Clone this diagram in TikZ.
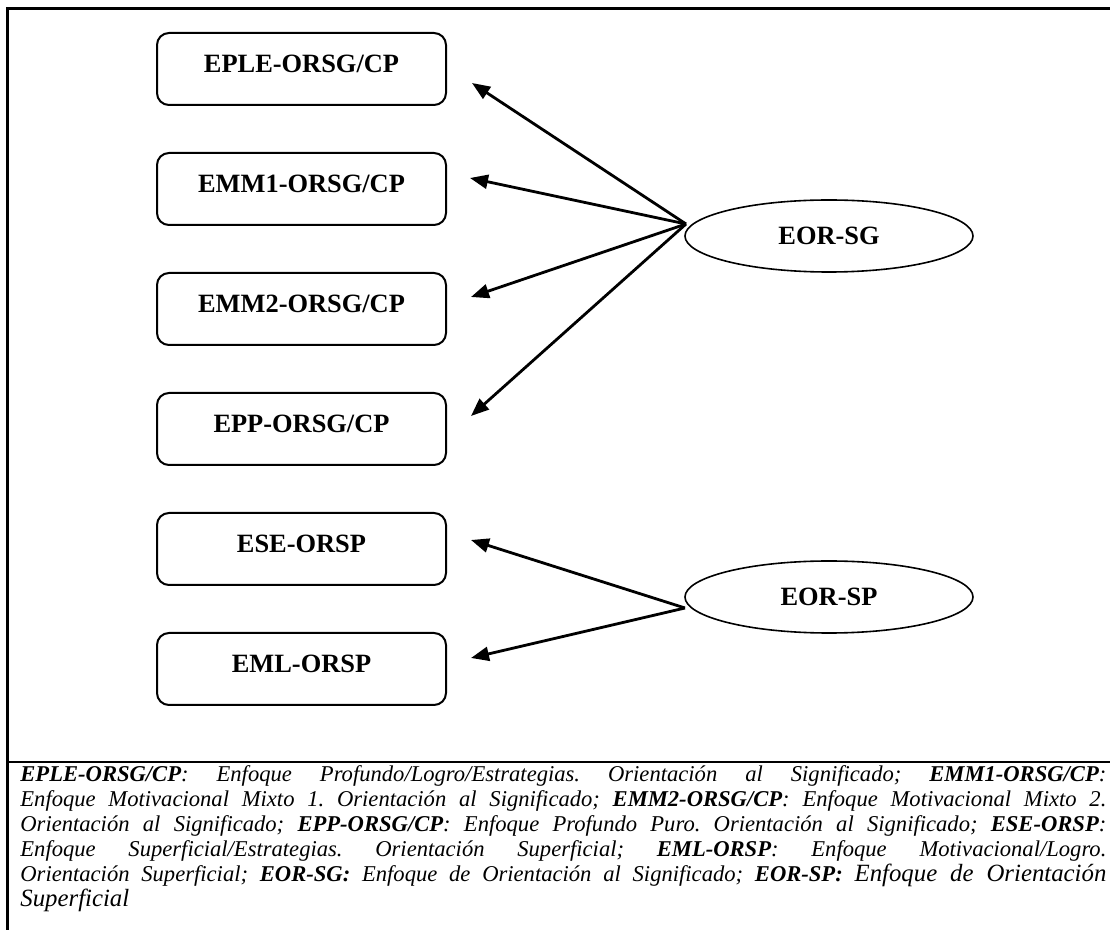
\documentclass[tikz,border=0pt]{standalone}
\usepackage{fontspec}
\setmainfont{Liberation Serif}
\usetikzlibrary{arrows.meta,shapes.geometric}

\begin{document}
\begin{tikzpicture}[x=0.5pt,y=-0.5pt,
  factor/.style={draw,line width=1pt,rounded corners=6pt,minimum width=144.5pt,
    minimum height=36pt,inner sep=0pt,font=\fontsize{13.2}{15}\selectfont\bfseries,
    text height=8.7pt,text depth=5pt},
  latent/.style={draw,ellipse,line width=0.8pt,minimum width=144pt,minimum height=36pt,
    inner sep=0pt,font=\fontsize{13.2}{15}\selectfont\bfseries},
  load/.style={line width=1.4pt,-{Triangle[length=9pt,width=7pt]}},
  frameline/.style={line width=1.3pt},
  legend/.style={inner sep=0pt,text width=543pt,align=justify,
    font=\fontsize{11.3}{12.5}\selectfont\itshape\frenchspacing}]

\clip (0,0) rectangle (1110,930);
\fill[white] (0,0) rectangle (1110,930);

% outer frame (open to the right and bottom) and legend separator
\draw[frameline] (7.7,940) -- (7.7,8.8) -- (1120,8.8);
\draw[frameline] (7.7,762) -- (1120,762);

% observed factors
\node[factor] (eple) at (301.5,69)  {EPLE-ORSG/CP};
\node[factor] (emm1) at (301.5,189) {EMM1-ORSG/CP};
\node[factor] (emm2) at (301.5,309) {EMM2-ORSG/CP};
\node[factor] (epp)  at (301.5,429) {EPP-ORSG/CP};
\node[factor] (ese)  at (301.5,549) {ESE-ORSP};
\node[factor] (eml)  at (301.5,669) {EML-ORSP};

% latent orientations
\node[latent] (sg) at (829,236) {EOR-SG};
\node[latent] (sp) at (829,597) {EOR-SP};

% arrow sources and tips
\coordinate (sg-src) at (686,224);
\coordinate (sp-src) at (685,608);
\coordinate (eple-tip) at (472,83);
\coordinate (emm1-tip) at (470,178);
\coordinate (emm2-tip) at (471,297);
\coordinate (epp-tip)  at (471,416);
\coordinate (ese-tip)  at (471,540);
\coordinate (eml-tip)  at (471,658);

\draw[load] (sg-src) -- (eple-tip);
\draw[load] (sg-src) -- (emm1-tip);
\draw[load] (sg-src) -- (emm2-tip);
\draw[load] (sg-src) -- (epp-tip);
\draw[load] (sp-src) -- (ese-tip);
\draw[load] (sp-src) -- (eml-tip);

% legend
\node[legend,anchor=base west] (key) at (20,782) {%
\textbf{EPLE-ORSG/CP}: Enfoque Profundo/Logro/Estrategias. Orientación al Significado; \textbf{EMM1-ORSG/CP}:\linebreak
Enfoque Motivacional Mixto 1. Orientación al Significado; \textbf{EMM2-ORSG/CP}: Enfoque Motivacional Mixto 2.\linebreak
Orientación al Significado; \textbf{EPP-ORSG/CP}: Enfoque Profundo Puro. Orientación al Significado; \textbf{ESE-ORSP}:\linebreak
Enfoque Superficial/Estrategias. Orientación Superficial; \textbf{EML-ORSP}: Enfoque Motivacional/Logro.\linebreak
Orientación Superficial; \textbf{EOR-SG:} Enfoque de Orientación al Significado; \textbf{EOR-SP:} {\fontsize{12.4}{12.5}\selectfont Enfoque de Orientación\linebreak
Superficial}};
\end{tikzpicture}
\end{document}
